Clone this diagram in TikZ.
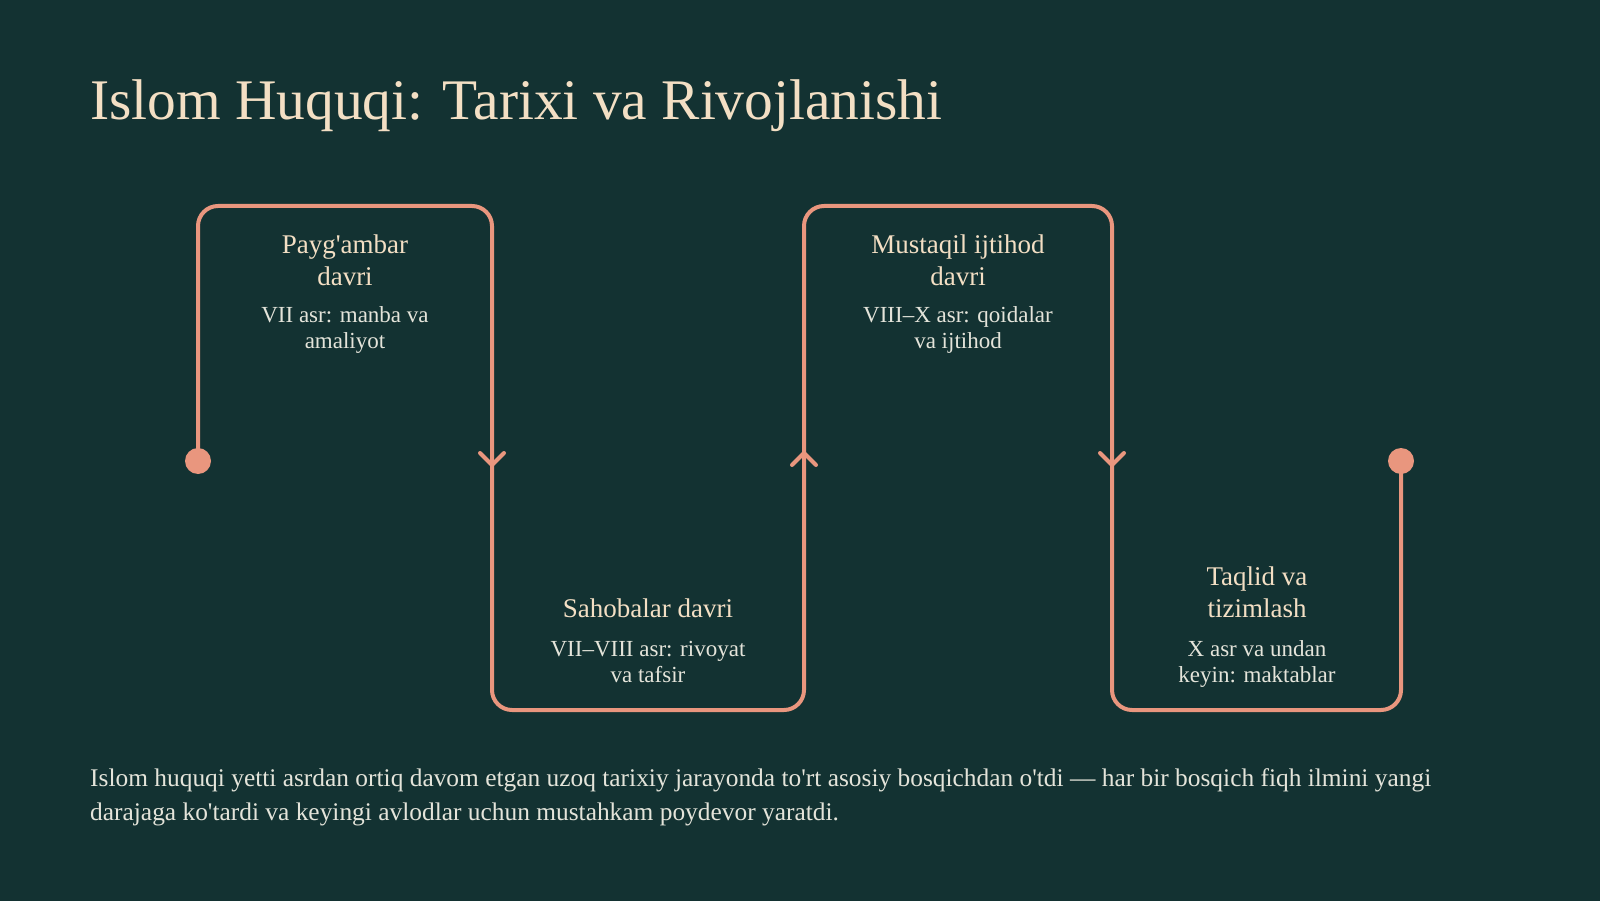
\documentclass[tikz,border=0pt]{standalone}
\usepackage{fontspec}
\setmainfont{Liberation Serif}[Ligatures=TeXOff]
\definecolor{bg}{HTML}{133232}
\definecolor{flowc}{HTML}{E9967E}
\definecolor{titlec}{HTML}{F3DFC4}
\definecolor{subc}{HTML}{E4E4DA}
\begin{document}
\begin{tikzpicture}[x=1pt,y=-1pt,
  flow/.style={draw=flowc,line width=4pt,line cap=round,line join=round},
  dotnode/.style={circle,fill=flowc,minimum size=26pt,inner sep=0pt},
  phase/.style={text=titlec,font=\fontsize{27}{31.6}\selectfont,align=center,inner sep=0pt},
  desc/.style={text=subc,font=\fontsize{23}{25.5}\selectfont,align=center,inner sep=0pt}]
\fill[bg] (0,0) rectangle (1600,901);
\useasboundingbox (0,0) rectangle (1600,901);
\node[anchor=base west,text=titlec,font=\fontsize{57.4}{62}\selectfont,inner sep=0pt] (title) at (90,120) {Islom Huquqi: Tarixi va Rivojlanishi};
% path
\node[dotnode] (start) at (198,461) {};
\node[dotnode] (end) at (1401,461) {};
\draw[flow,rounded corners=20pt] (start.center) -- (198,206) -- (492,206) -- (492,710) -- (804,710) -- (804,206) -- (1112,206) -- (1112,710) -- (1401,710) -- (end.center);
% chevrons
\coordinate (a1) at (492,465);
\coordinate (a2) at (804,453);
\coordinate (a3) at (1112,465);
\draw[flow] ([shift={(-12,-12)}]a1) -- (a1) -- ([shift={(12,-12)}]a1);
\draw[flow] ([shift={(-12,12)}]a2) -- (a2) -- ([shift={(12,12)}]a2);
\draw[flow] ([shift={(-12,-12)}]a3) -- (a3) -- ([shift={(12,-12)}]a3);
% texts
\node[phase,anchor=base] (p1) at (345,285) {Payg'ambar\\davri};
\node[desc,anchor=base] (d1) at (345,348) {VII asr: manba va\\amaliyot};
\node[phase,anchor=base] (p2) at (648,617) {Sahobalar davri};
\node[desc,anchor=base] (d2) at (648,682) {VII–VIII asr: rivoyat\\va tafsir};
\node[phase,anchor=base] (p3) at (958,285) {Mustaqil ijtihod\\davri};
\node[desc,anchor=base] (d3) at (958,348) {VIII–X asr: qoidalar\\va ijtihod};
\node[phase,anchor=base] (p4) at (1257,617) {Taqlid va\\tizimlash};
\node[desc,anchor=base] (d4) at (1257,682) {X asr va undan\\keyin: maktablar};
\node[anchor=base west,text=subc,font=\fontsize{25.4}{34}\selectfont,align=left,inner sep=0pt] (para) at (90,820) {Islom huquqi yetti asrdan ortiq davom etgan uzoq tarixiy jarayonda to'rt asosiy bosqichdan o'tdi — har bir bosqich fiqh ilmini yangi\\darajaga ko'tardi va keyingi avlodlar uchun mustahkam poydevor yaratdi.};
\end{tikzpicture}
\end{document}
